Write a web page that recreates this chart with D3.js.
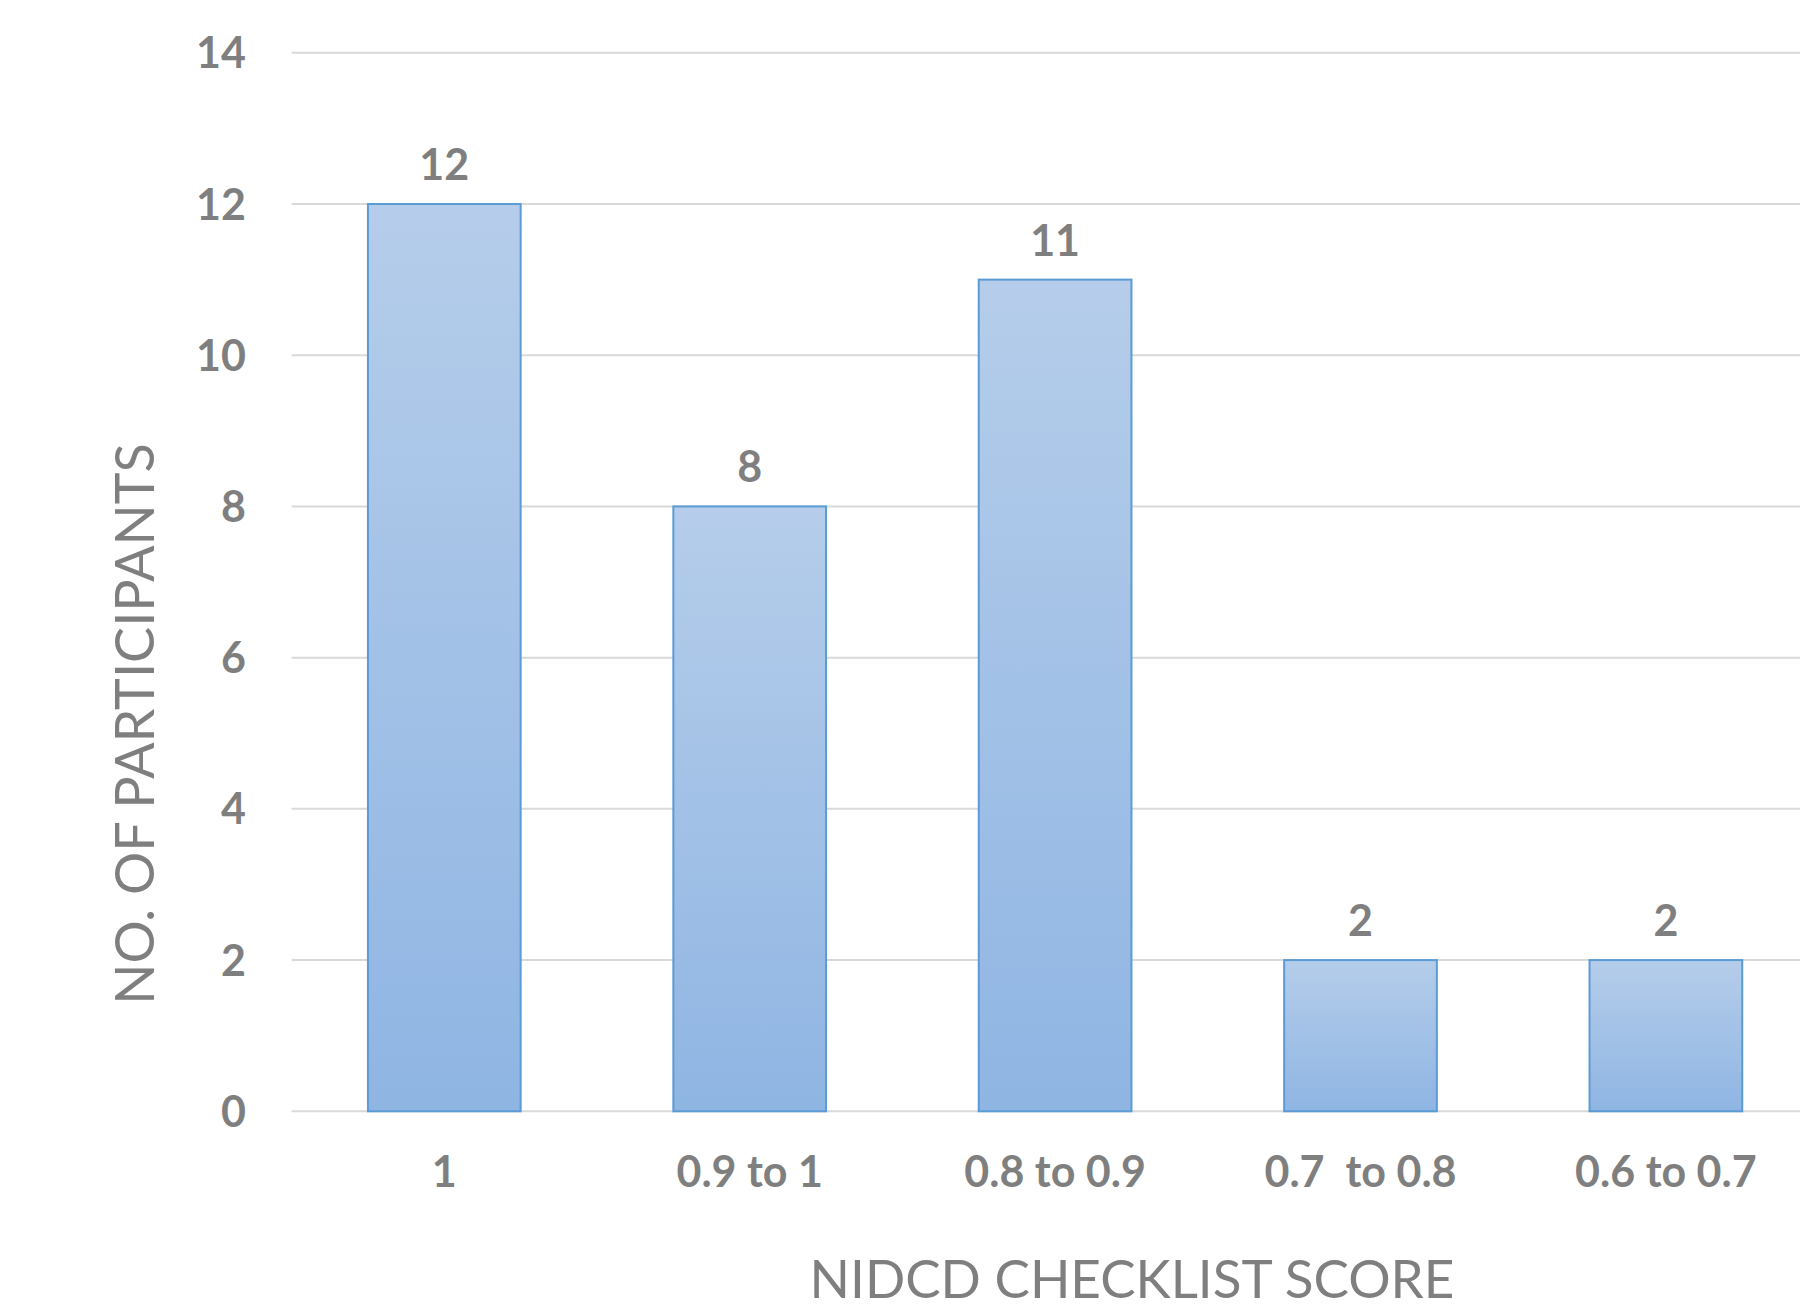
<!DOCTYPE html>
<html>
<head>
<meta charset="utf-8">
<script src="https://cdn.jsdelivr.net/npm/d3@7"></script>
<style>
  html, body { margin: 0; padding: 0; background: #fff; }
  svg { display: block; }
  svg text { white-space: pre; }
</style>
</head>
<body>
<script>
// Participants per NIDCD checklist score band
const categories = ["1", "0.9 to 1", "0.8 to 0.9", "0.7  to 0.8", "0.6 to 0.7"];
const participants = [12, 8, 11, 2, 2];
const yTicks = [0, 2, 4, 6, 8, 10, 12, 14];

const W = 1800, H = 1315;
const textColor = "#7f7f7f";
const fontFamily = "Lato, 'Open Sans', sans-serif";
const labelSize = 43;

const svg = d3.select("body").append("svg")
  .attr("width", W).attr("height", H);

// Gradient used for every bar (light at top, deeper blue at bottom)
const defs = svg.append("defs");
const grad = defs.append("linearGradient")
  .attr("id", "barFill").attr("x1", 0).attr("y1", 0).attr("x2", 0).attr("y2", 1);
grad.append("stop").attr("offset", "0%").attr("stop-color", "#b5cdea");
grad.append("stop").attr("offset", "100%").attr("stop-color", "#8fb5e3");

const x = d3.scaleBand()
  .domain(categories)
  .range([291.6, 1818.6])
  .paddingInner(0.5)
  .paddingOuter(0.25);

const y = d3.scaleLinear()
  .domain([0, 14])
  .range([1111.3, 52.8]);

// Horizontal gridlines
svg.append("g")
  .selectAll("line")
  .data(yTicks)
  .join("line")
  .attr("x1", 291.6).attr("x2", W)
  .attr("y1", d => y(d)).attr("y2", d => y(d))
  .attr("stroke", "#d9d9d9")
  .attr("stroke-width", 2);

// Y axis labels
const yAxis = d3.axisLeft(y).tickValues(yTicks).tickSize(0).tickPadding(0);
svg.append("g")
  .attr("transform", "translate(246,0)")
  .call(yAxis)
  .call(g => g.select(".domain").remove())
  .call(g => g.selectAll("text")
    .attr("fill", textColor)
    .attr("font-family", fontFamily)
    .attr("font-weight", "bold")
    .attr("font-size", labelSize)
    .attr("dy", "0.35em"));

// Bars
svg.append("g")
  .selectAll("rect")
  .data(participants)
  .join("rect")
  .attr("x", (d, i) => x(categories[i]))
  .attr("width", x.bandwidth())
  .attr("y", d => y(d))
  .attr("height", d => y(0) - y(d))
  .attr("fill", "url(#barFill)")
  .attr("stroke", "#5b9bd5")
  .attr("stroke-width", 2);

// Value labels above bars
svg.append("g")
  .selectAll("text")
  .data(participants)
  .join("text")
  .attr("x", (d, i) => x(categories[i]) + x.bandwidth() / 2)
  .attr("y", d => y(d) - 24)
  .attr("text-anchor", "middle")
  .attr("fill", textColor)
  .attr("font-family", fontFamily)
  .attr("font-weight", "bold")
  .attr("font-size", labelSize)
  .text(d => d);

// X axis category labels
const xAxis = d3.axisBottom(x).tickSize(0).tickPadding(0);
svg.append("g")
  .attr("transform", "translate(0,1187)")
  .call(xAxis)
  .call(g => g.select(".domain").remove())
  .call(g => g.selectAll("text")
    .attr("fill", textColor)
    .attr("font-family", fontFamily)
    .attr("font-weight", "bold")
    .attr("font-size", labelSize)
    .attr("dy", 0)
    .attr("y", 0));

// Axis titles
svg.append("text")
  .attr("x", 1132).attr("y", 1298)
  .attr("text-anchor", "middle")
  .attr("fill", textColor)
  .attr("font-family", fontFamily)
  .attr("font-size", 53)
  .text("NIDCD CHECKLIST SCORE");

svg.append("text")
  .attr("transform", "translate(154,724) rotate(-90)")
  .attr("text-anchor", "middle")
  .attr("fill", textColor)
  .attr("font-family", fontFamily)
  .attr("font-size", 54)
  .text("NO. OF PARTICIPANTS");
</script>
</body>
</html>
